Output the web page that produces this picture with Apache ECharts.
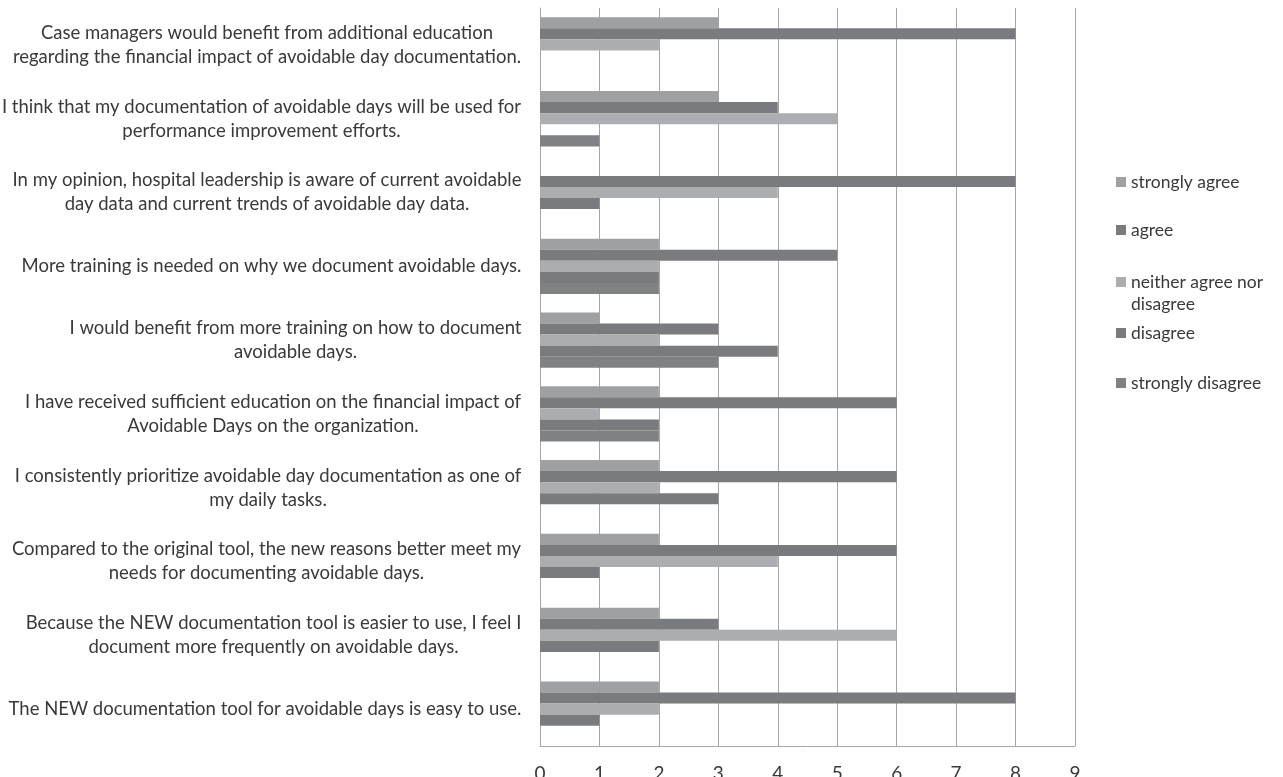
<!DOCTYPE html>
<html>
<head>
<meta charset="utf-8">
<script src="https://cdn.jsdelivr.net/npm/echarts@6/dist/echarts.min.js"></script>
<style>
html,body{margin:0;padding:0;background:#fff;}
#chart{width:1283px;height:777px;}
</style>
</head>
<body>
<div id="chart"></div>
<script>
// Categories, top to bottom (each entry: lines of the wrapped label)
const categories = [
  ["Case managers would benefit from additional education", "regarding the financial impact of avoidable day documentation."],
  ["I think that my documentation of avoidable days will be used for", "performance improvement efforts."],
  ["In my opinion, hospital leadership is aware of current avoidable", "day data and current trends of avoidable day data."],
  ["More training is needed on why we document avoidable days."],
  ["I would benefit from more training on how to document", "avoidable days."],
  ["I have received sufficient education on the financial impact of", "Avoidable Days on the organization."],
  ["I consistently prioritize avoidable day documentation as one of", "my daily tasks."],
  ["Compared to the original tool, the new reasons better meet my", "needs for documenting avoidable days."],
  ["Because the NEW documentation tool is easier to use, I feel I", "document more frequently on avoidable days."],
  ["The NEW documentation tool for avoidable days is easy to use."]
];
const seriesNames = ["strongly agree", "agree", "neither agree nor disagree", "disagree", "strongly disagree"];
const stronglyAgree    = [3, 3, 0, 2, 1, 2, 2, 2, 2, 2];
const agree            = [8, 4, 8, 5, 3, 6, 6, 6, 3, 8];
const neither          = [2, 5, 4, 2, 2, 1, 2, 4, 6, 2];
const disagree         = [0, 0, 1, 2, 4, 2, 3, 1, 2, 1];
const stronglyDisagree = [0, 1, 0, 2, 3, 2, 0, 0, 0, 0];
const xTicks = [0, 1, 2, 3, 4, 5, 6, 7, 8, 9];

const FONT = '"Lato", "Open Sans", sans-serif';
const TEXT_COLOR = '#3a3a3a';
const colors = ['#9fa0a2', '#7a7b7e', '#acadb0', '#7a7b7e', '#808184'];

// measure to fit label block widths
const ctx = document.createElement('canvas').getContext('2d');
function measure(t, size) { ctx.font = size + 'px ' + FONT; return ctx.measureText(t).width; }
const targetW = 519; // width of the widest label line in the reference
let maxW100 = 0;
categories.forEach(c => c.forEach(l => { maxW100 = Math.max(maxW100, measure(l, 100)); }));
let labelSize = Math.min(19, Math.max(14, 100 * targetW / maxW100));
labelSize = Math.round(labelSize * 10) / 10;

const rich = {};
const catKeys = categories.map((c, i) => 'k' + i);
categories.forEach((c, i) => {
  let w = 0;
  c.forEach(l => { w = Math.max(w, measure(l, labelSize)); });
  rich['c' + i] = { width: Math.ceil(w) + 1, align: 'center', fontSize: labelSize, fontFamily: FONT, color: TEXT_COLOR, lineHeight: 24 };
});

const seriesData = [stronglyAgree, agree, neither, disagree, stronglyDisagree];
const series = seriesNames.map((n, i) => ({
  name: n,
  type: 'bar',
  data: seriesData[i],
  barGap: '0%',
  barCategoryGap: '25%',
  itemStyle: { color: colors[i] },
  emphasis: { disabled: true }
}));

const legendCenters = [182, 230, 282, 333, 383];
const legends = seriesNames.map((n, i) => {
  const isTwo = i === 2;
  return {
    data: [n],
    orient: 'vertical',
    left: 1116,
    top: isTwo ? legendCenters[i] - 33 : legendCenters[i] - 11,
    icon: 'rect',
    itemWidth: 10,
    itemHeight: 10,
    itemGap: 0,
    padding: 0,
    formatter: isTwo ? '\nneither agree nor\ndisagree' : '{name}',
    textStyle: {
      color: TEXT_COLOR, fontSize: 17.5, fontFamily: FONT, lineHeight: 22
    }
  };
});

const chart = echarts.init(document.getElementById('chart'), null, { renderer: 'canvas' });
chart.setOption({
  backgroundColor: '#ffffff',
  animation: false,
  legend: legends,
  grid: { left: 540, right: 208, top: 8, bottom: 31, containLabel: false, outerBoundsMode: 'none' },
  xAxis: {
    type: 'value',
    min: 0, max: 9, interval: 1,
    axisLine: { show: true, lineStyle: { color: '#a6a6a6', width: 1 } },
    axisTick: { show: false },
    splitLine: { show: true, lineStyle: { color: '#a6a6a6', width: 1 } },
    axisLabel: {
      color: TEXT_COLOR, fontSize: 19, fontFamily: FONT, margin: 18,
      formatter: v => String(xTicks[v] !== undefined ? xTicks[v] : v)
    }
  },
  yAxis: {
    type: 'category',
    inverse: true,
    data: catKeys,
    axisLine: { show: true, lineStyle: { color: '#a6a6a6', width: 1 } },
    axisTick: { show: false },
    splitLine: { show: false },
    axisLabel: {
      margin: 18,
      interval: 0,
      formatter: (v, idx) => categories[idx].map(l => '{c' + idx + '|' + l + '}').join('\n'),
      rich: rich
    }
  },
  series: series
});
</script>
</body>
</html>
